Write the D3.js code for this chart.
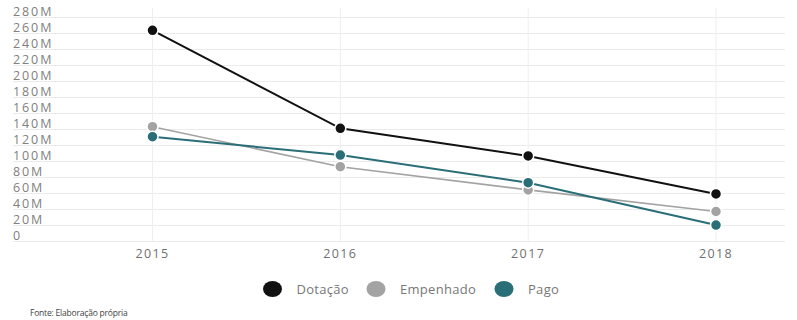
<!DOCTYPE html>
<html>
<head>
<meta charset="utf-8">
<script src="https://cdn.jsdelivr.net/npm/d3@7"></script>
<style>
  html, body { margin: 0; padding: 0; background: #fff; }
  svg { display: block; font-family: "Open Sans", sans-serif; }
</style>
</head>
<body>
<svg id="chart" width="797" height="320"></svg>
<script>
// Budget execution by year (values in millions of R$)
const years = ["2015", "2016", "2017", "2018"];
const dotacao = [264, 141.5, 107, 59.5];
const empenhado = [143.5, 93.5, 64.5, 37.5];
const pago = [131, 108, 73.5, 20.5];
const seriesNames = ["Dotação", "Empenhado", "Pago"];
const seriesColors = ["#111111", "#a3a3a3", "#2a6e78"];
const yTicks = [0, 20, 40, 60, 80, 100, 120, 140, 160, 180, 200, 220, 240, 260, 280];
const source = "Fonte: Elaboração própria";

const series = [dotacao, empenhado, pago].map((vals, i) => ({
  name: seriesNames[i],
  color: seriesColors[i],
  values: vals.map((v, j) => ({ year: years[j], value: v }))
}));

const svg = d3.select("#chart");

const x = d3.scalePoint().domain(years).range([152.5, 716]);
const y = d3.scaleLinear().domain([0, 280]).range([241.5, 17.5]);

// Horizontal and vertical grid
const grid = svg.append("g");
grid.selectAll("line.h")
  .data(yTicks)
  .join("line")
  .attr("x1", 13).attr("x2", 785)
  .attr("y1", d => y(d)).attr("y2", d => y(d))
  .attr("stroke", "#ebebeb").attr("stroke-width", 1);

grid.selectAll("line.v")
  .data(years)
  .join("line")
  .attr("x1", d => x(d)).attr("x2", d => x(d))
  .attr("y1", 8).attr("y2", y(0))
  .attr("stroke", "#efefef").attr("stroke-width", 1);

// Y labels sit just above their grid line
svg.append("g").selectAll("text")
  .data(yTicks)
  .join("text")
  .attr("x", 13)
  .attr("y", d => y(d) - 1.5)
  .attr("fill", "#808080")
  .attr("font-size", 12.5)
  .attr("letter-spacing", 1.9)
  .text(d => d === 0 ? "0" : d + "M");

// X labels
svg.append("g").selectAll("text")
  .data(years)
  .join("text")
  .attr("x", d => x(d))
  .attr("y", 257.5)
  .attr("text-anchor", "middle")
  .attr("fill", "#6f6f6f")
  .attr("font-size", 12.5)
  .attr("letter-spacing", 1.4)
  .text(d => d);

// Lines and points
const line = d3.line().x(d => x(d.year)).y(d => y(d.value));
const sg = svg.append("g").selectAll("g")
  .data(series)
  .join("g");

sg.append("path")
  .attr("d", d => line(d.values))
  .attr("fill", "none")
  .attr("stroke", d => d.color)
  .attr("stroke-width", (d, i) => i === 1 ? 1.6 : 2);

sg.selectAll("circle")
  .data(d => d.values.map(v => ({ ...v, color: d.color })))
  .join("circle")
  .attr("cx", d => x(d.year))
  .attr("cy", d => y(d.value))
  .attr("r", 5.5)
  .attr("fill", d => d.color)
  .attr("stroke", "#fff")
  .attr("stroke-width", 1.5);

// Legend
const legendX = [272.5, 376, 504];
const leg = svg.append("g").selectAll("g")
  .data(series)
  .join("g")
  .attr("transform", (d, i) => `translate(${legendX[i]},289)`);
leg.append("ellipse")
  .attr("rx", 9.5).attr("ry", 8)
  .attr("fill", d => d.color);
leg.append("text")
  .attr("x", 24)
  .attr("y", 4.5)
  .attr("fill", "#777")
  .attr("font-size", 13)
  .attr("letter-spacing", 0.3)
  .text(d => d.name);

// Source note
svg.append("text")
  .attr("x", 30)
  .attr("y", 316)
  .attr("fill", "#444")
  .attr("font-size", 8.5)
  .attr("letter-spacing", -0.2)
  .text(source);
</script>
</body>
</html>
